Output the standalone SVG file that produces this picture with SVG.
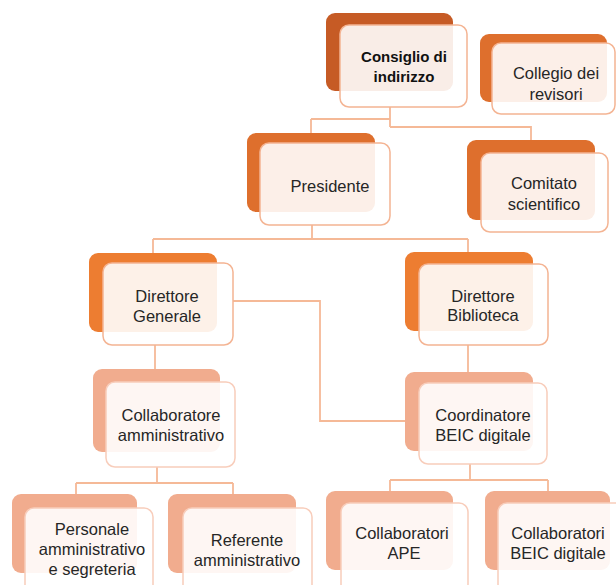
<svg xmlns="http://www.w3.org/2000/svg" width="616" height="585" viewBox="0 0 616 585">
<style>
.bg{fill:#ffffff}
.l1{fill:#c65b25}
.l2{fill:#de6f2d}
.l3{fill:#ed7d31}
.l4{fill:#f1ac8e}
.fr{fill:#ffffff;fill-opacity:0.89;stroke:#f4b493;stroke-width:1.5}
.fr4{fill:#ffffff;fill-opacity:0.89;stroke:#f8cdbb;stroke-width:1.5}
.conn{fill:none;stroke:#f5b997;stroke-width:1.8}
text{font-family:"Liberation Sans",Arial,sans-serif;font-size:16.5px;fill:#262626;text-anchor:middle}
.b{font-weight:bold;font-size:15px;fill:#111}
</style>
<rect class="bg" x="0" y="0" width="616" height="585"/>
<g id="connectors">
<path class="conn" d="M390,107 V127 M311,119 H390 M311,119 V133 M390,127 H531 V140"/>
<path class="conn" d="M312,225 V239 M153,239 H468 M153,239 V253 M468,239 V252"/>
<path class="conn" d="M155,345 V369"/>
<path class="conn" d="M468,345 V372"/>
<path class="conn" d="M233,301 H320 V421 H405"/>
<path class="conn" d="M157,467 V483 M76,483 H233 M76,483 V494 M233,483 V494"/>
<path class="conn" d="M470,464 V480 M390,480 H548 M390,480 V491 M548,480 V491"/>
</g>
<g id="consiglio">
<rect class="l1" x="326" y="13" width="127" height="78" rx="9"/>
<rect class="fr" x="340" y="25" width="127" height="82" rx="9"/>
<text class="b" x="404" y="62">Consiglio di</text>
<text class="b" x="404" y="82">indirizzo</text>
</g>
<g id="collegio">
<rect class="l2" x="480" y="34" width="127" height="68" rx="9"/>
<rect class="fr" x="492" y="43" width="123" height="71" rx="9"/>
<text x="556" y="79">Collegio dei</text>
<text x="556" y="100">revisori</text>
</g>
<g id="presidente">
<rect class="l2" x="247" y="133" width="128" height="79" rx="9"/>
<rect class="fr" x="260" y="143" width="130" height="82" rx="9"/>
<text x="330" y="192">Presidente</text>
</g>
<g id="comitato">
<rect class="l2" x="467" y="140" width="128" height="80" rx="9"/>
<rect class="fr" x="481" y="153" width="127" height="79" rx="9"/>
<text x="544" y="189">Comitato</text>
<text x="544" y="210">scientifico</text>
</g>
<g id="direttore-generale">
<rect class="l3" x="89" y="253" width="128" height="79" rx="9"/>
<rect class="fr" x="103" y="263" width="130" height="82" rx="9"/>
<text x="167" y="302">Direttore</text>
<text x="167" y="322">Generale</text>
</g>
<g id="direttore-biblioteca">
<rect class="l3" x="405" y="252" width="128" height="79" rx="9"/>
<rect class="fr" x="419" y="264" width="129" height="81" rx="9"/>
<text x="483" y="302">Direttore</text>
<text x="483" y="321">Biblioteca</text>
</g>
<g id="collaboratore">
<rect class="l4" x="93" y="369" width="127" height="83" rx="9"/>
<rect class="fr4" x="106" y="382" width="129" height="85" rx="9"/>
<text x="171" y="421">Collaboratore</text>
<text x="171" y="441">amministrativo</text>
</g>
<g id="coordinatore">
<rect class="l4" x="405" y="372" width="128" height="79" rx="9"/>
<rect class="fr4" x="419" y="383" width="128" height="81" rx="9"/>
<text x="483" y="421">Coordinatore</text>
<text x="483" y="441">BEIC digitale</text>
</g>
<g id="personale">
<rect class="l4" x="12" y="494" width="125" height="79" rx="9"/>
<rect class="fr4" x="25" y="508" width="128" height="90" rx="9"/>
<text x="92" y="535">Personale</text>
<text x="92" y="555">amministrativo</text>
<text x="92" y="575">e segreteria</text>
</g>
<g id="referente">
<rect class="l4" x="168" y="494" width="128" height="79" rx="9"/>
<rect class="fr4" x="183" y="508" width="129" height="90" rx="9"/>
<text x="247" y="546">Referente</text>
<text x="247" y="566">amministrativo</text>
</g>
<g id="collaboratori-ape">
<rect class="l4" x="326" y="491" width="127" height="79" rx="9"/>
<rect class="fr4" x="341" y="503" width="127" height="90" rx="9"/>
<text x="402" y="539">Collaboratori</text>
<text x="404" y="559">APE</text>
</g>
<g id="collaboratori-beic">
<rect class="l4" x="485" y="491" width="125" height="79" rx="9"/>
<rect class="fr4" x="498" y="503" width="127" height="90" rx="9"/>
<text x="558" y="539">Collaboratori</text>
<text x="558" y="559">BEIC digitale</text>
</g>
</svg>
